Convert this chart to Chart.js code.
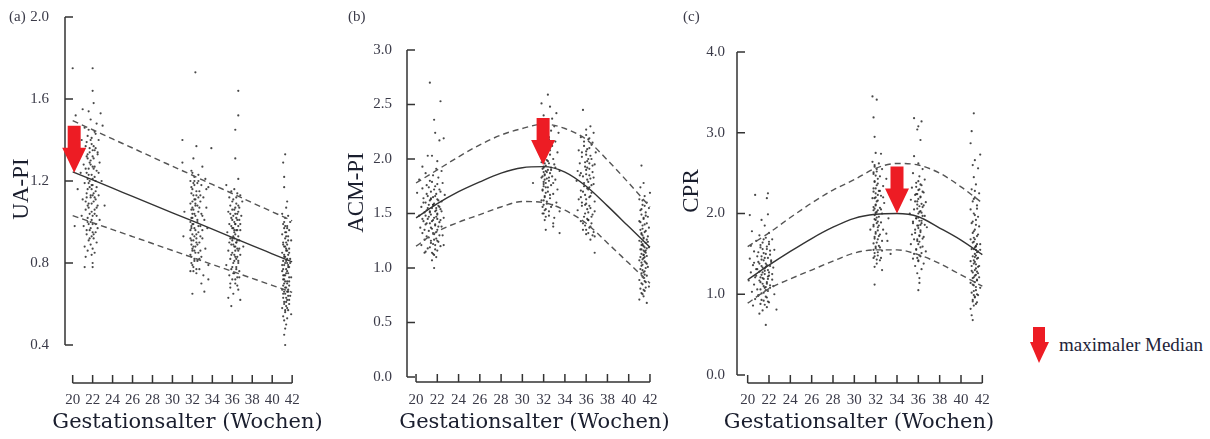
<!DOCTYPE html>
<html lang="de">
<head>
<meta charset="utf-8">
<title>UA-PI, ACM-PI und CPR nach Gestationsalter</title>
<script src="https://cdn.jsdelivr.net/npm/chart.js@4.4.1/dist/chart.umd.min.js"></script>
<style>
  body { margin: 0; background: #fff; }
  #wrap { position: relative; width: 1210px; height: 439px; overflow: hidden; }
  #wrap canvas { position: absolute; top: 0; }
  #cA { left: 0; }
  #cB { left: 340px; }
  #cC { left: 680px; }
  #legend { position: absolute; left: 1029px; top: 326px; height: 38px; display: flex; align-items: center;
            font: 19px 'Liberation Serif', 'DejaVu Serif', serif; color: #1e2438; }
  #legend svg { margin-right: 9px; }
</style>
</head>
<body>
<div id="wrap">
  <canvas id="cA" width="340" height="439"></canvas>
  <canvas id="cB" width="330" height="439"></canvas>
  <canvas id="cC" width="330" height="439"></canvas>
  <div id="legend">
    <svg width="21" height="38"><polygon points="4,1 16,1 16,16 20,16 10,37 1,16 4,16" fill="#ed1c24"/></svg>
    <span>maximaler Median</span>
  </div>
</div>
<script>
  // Wochen fuer die Perzentilkurven und Achsenbeschriftung
  var weeks = [20, 22, 24, 26, 28, 30, 32, 34, 36, 38, 40, 42];
  var xTicks = [20, 22, 24, 26, 28, 30, 32, 34, 36, 38, 40, 42];

  // (a) UA-PI
  var uaTicks = [0.4, 0.8, 1.2, 1.6, 2.0];
  var uaMedian = [1.245, 1.205, 1.165, 1.125, 1.085, 1.045, 1.005, 0.965, 0.925, 0.885, 0.845, 0.805];
  var uaUpper = [1.494, 1.450, 1.405, 1.361, 1.316, 1.272, 1.228, 1.183, 1.139, 1.094, 1.050, 1.006];
  var uaLower = [1.031, 0.997, 0.963, 0.929, 0.895, 0.861, 0.827, 0.793, 0.759, 0.725, 0.691, 0.657];

  // (b) ACM-PI
  var acmTicks = [0.0, 0.5, 1.0, 1.5, 2.0, 2.5, 3.0];
  var acmMedian = [1.46, 1.59, 1.70, 1.79, 1.87, 1.92, 1.93, 1.88, 1.75, 1.57, 1.38, 1.19];
  var acmUpper = [1.78, 1.90, 2.02, 2.13, 2.22, 2.28, 2.32, 2.28, 2.18, 1.99, 1.78, 1.56];
  var acmLower = [1.20, 1.335, 1.42, 1.49, 1.56, 1.61, 1.60, 1.53, 1.41, 1.23, 1.045, 0.86];

  // (c) CPR
  var cprTicks = [0.0, 1.0, 2.0, 3.0, 4.0];
  var cprMedian = [1.18, 1.36, 1.53, 1.69, 1.83, 1.94, 1.99, 2.00, 1.96, 1.82, 1.67, 1.49];
  var cprUpper = [1.59, 1.76, 1.95, 2.13, 2.29, 2.42, 2.56, 2.62, 2.60, 2.50, 2.33, 2.13];
  var cprLower = [0.89, 1.07, 1.19, 1.30, 1.41, 1.51, 1.55, 1.55, 1.49, 1.38, 1.24, 1.10];

  // maximaler Median je Panel: Woche, Wert
  var maxMedianWeek = [20.15, 31.95, 34.0];
  var maxMedianValue = [1.24, 1.945, 2.00];

  // Einzelmessungen (Woche, Wert)
  var uaPts21 = [[20.0,1.75],[22.0,1.75],[22.0,1.64],[22.1,1.58],[21.0,1.55],[21.6,1.54],[22.8,1.53],[20.3,1.52],[21.8,1.50],[22.4,1.48],[23.0,1.47],[21.2,1.46],[22.2,1.44],[21.5,1.42],[20.9,1.40],[22.6,1.40],[21.9,1.38],[21.3,1.37],[22.3,1.36],[22.0,1.35],[21.7,1.34],[20.7,1.33],[22.5,1.33],[21.4,1.32],[22.1,1.31],[21.8,1.30],[22.7,1.29],[21.1,1.28],[22.0,1.27],[21.6,1.26],[22.4,1.25],[20.8,1.24],[21.9,1.23],[22.2,1.22],[21.5,1.21],[22.9,1.20],[21.2,1.19],[22.0,1.18],[21.7,1.17],[20.5,1.16],[22.3,1.15],[21.4,1.14],[22.6,1.13],[21.8,1.12],[21.0,1.11],[22.1,1.10],[21.6,1.09],[23.2,1.08],[22.4,1.07],[21.3,1.06],[21.9,1.05],[22.2,1.04],[20.9,1.03],[21.5,1.02],[22.7,1.01],[21.8,1.00],[22.0,0.99],[21.1,0.98],[22.5,0.97],[21.7,0.96],[22.3,0.95],[21.4,0.94],[21.9,0.93],[22.1,0.92],[21.6,0.91],[20.2,0.98],[22.4,0.90],[21.8,0.89],[21.2,0.88],[22.0,0.87],[21.5,0.86],[22.2,0.85],[21.9,0.84],[21.3,0.83],[22.0,0.80],[21.2,0.78],[22.0,0.78],[21.7,1.29],[22.1,1.26],[21.5,1.31],[22.3,1.20],[21.9,1.16],[21.4,1.24],[22.0,1.13],[21.6,1.19],[22.2,1.35],[21.8,1.40],[21.3,1.10],[22.5,1.08],
    [21.6,1.45],[22.3,1.43],[21.9,1.41],[21.4,1.39],[22.1,1.37],[21.7,1.36],[22.5,1.34],[21.5,1.33],[22.0,1.32],[21.8,1.28],[22.2,1.27],[21.3,1.26],[22.6,1.24],[21.6,1.23],[22.0,1.21],[21.7,1.20],[21.9,1.18],[22.4,1.17],[21.5,1.16],[22.1,1.14],[21.8,1.13],[21.4,1.12],[22.3,1.11],[21.9,1.09],[21.6,1.07],[22.2,1.06],[21.7,1.04],[22.0,1.03],[21.5,1.00],[22.3,0.99],[21.8,0.97],[21.4,0.96],[22.1,0.94],[21.7,0.92],[22.0,0.95],[21.6,0.99],[22.4,1.03],[21.9,1.01],[22.2,1.12],[21.5,1.08]];
  var uaPts32 = [[32.3,1.73],[31.0,1.40],[32.4,1.37],[33.9,1.36],[31.0,1.29],[32.1,1.31],[33.0,1.27],[31.9,1.25],[32.6,1.23],[32.2,1.22],[33.3,1.21],[31.8,1.20],[32.5,1.19],[32.9,1.18],[33.6,1.17],[32.0,1.16],[32.7,1.15],[31.9,1.14],[32.4,1.13],[33.1,1.12],[32.2,1.11],[32.8,1.10],[31.8,1.09],[32.5,1.08],[33.4,1.07],[32.1,1.06],[32.6,1.05],[31.2,1.05],[32.9,1.04],[32.3,1.03],[31.9,1.02],[33.2,1.01],[32.5,1.00],[32.0,0.99],[32.8,0.98],[32.2,0.97],[33.5,0.97],[31.8,0.96],[32.6,0.95],[32.4,0.94],[31.1,0.93],[33.0,0.92],[32.1,0.91],[32.7,0.90],[31.9,0.89],[32.3,0.88],[33.3,0.87],[32.0,0.86],[32.6,0.85],[31.8,0.84],[32.9,0.83],[32.2,0.82],[32.5,0.81],[31.9,0.80],[33.6,0.79],[32.1,0.78],[32.7,0.77],[31.8,0.76],[32.4,0.75],[33.1,0.74],[32.9,0.70],[33.6,0.72],[32.0,0.65],[33.2,0.66],[32.3,1.09],[32.0,1.04],[32.6,1.12],[31.9,0.97],[32.4,0.92],[32.2,1.18],[32.8,0.86],[33.4,1.16],[33.0,0.96],
    [32.0,1.24],[32.2,1.20],[31.9,1.17],[32.4,1.15],[32.1,1.13],[32.0,1.10],[32.3,1.08],[31.9,1.06],[32.2,1.04],[32.0,1.02],[32.5,1.01],[32.1,0.99],[31.9,0.98],[32.3,0.96],[32.0,0.94],[32.2,0.93],[31.9,0.91],[32.4,0.90],[32.1,0.88],[32.0,0.87],[32.3,0.85],[31.9,0.83],[32.2,0.81],[32.0,0.79],[32.4,0.77],[32.1,0.76],[31.8,1.00],[32.6,0.98],[32.7,1.07],[32.8,0.93],[33.0,1.03],[32.5,0.89],[32.7,0.82],[32.6,1.20],[32.8,1.13],[32.1,1.19],[31.8,0.92],[32.2,0.86],[32.0,1.07],[32.3,1.11]];
  var uaPts36 = [[36.6,1.64],[36.6,1.52],[36.3,1.45],[36.3,1.31],[36.6,1.21],[35.4,1.18],[36.2,1.16],[35.9,1.15],[36.5,1.14],[36.8,1.13],[35.7,1.12],[36.1,1.11],[37.0,1.10],[36.4,1.09],[35.8,1.08],[36.7,1.07],[36.0,1.06],[35.6,1.05],[36.3,1.04],[36.9,1.03],[35.9,1.02],[36.5,1.01],[36.2,1.00],[35.7,0.99],[36.6,0.98],[36.0,0.97],[36.8,0.96],[35.5,0.95],[36.3,0.94],[36.1,0.93],[35.8,0.92],[36.7,0.91],[36.4,0.90],[35.9,0.89],[36.2,0.88],[37.1,0.88],[36.5,0.87],[35.6,0.86],[36.0,0.85],[36.8,0.84],[36.3,0.83],[35.8,0.82],[36.6,0.81],[36.1,0.80],[35.4,0.79],[36.4,0.78],[35.9,0.77],[36.7,0.76],[36.2,0.75],[35.7,0.74],[36.5,0.73],[36.0,0.72],[36.3,0.70],[35.8,0.68],[36.6,0.67],[36.1,0.65],[35.6,0.63],[36.8,0.62],[35.9,0.59],[36.2,0.96],[36.4,1.02],[36.0,0.91],[36.6,0.86],[35.8,1.04],[36.3,0.99],
    [36.4,1.12],[36.0,1.10],[36.6,1.08],[36.2,1.06],[36.5,1.04],[36.1,1.03],[36.7,1.01],[36.3,0.99],[35.9,0.98],[36.5,0.96],[36.2,0.95],[36.6,0.93],[36.0,0.92],[36.4,0.90],[36.1,0.89],[36.7,0.87],[36.3,0.86],[35.9,0.84],[36.5,0.83],[36.2,0.81],[36.6,0.80],[36.0,0.78],[36.4,0.77],[36.1,0.75],[36.7,0.73],[36.3,0.72],[35.8,0.70],[36.5,0.69],[36.2,0.92],[36.4,0.96],[36.3,0.88],[36.1,0.97],[36.5,0.91],[36.6,1.05],[36.0,1.01],[36.2,0.84],[35.7,0.90],[36.8,0.99],[36.4,0.82],[36.3,1.07]];
  var uaPts41 = [[41.3,1.33],[41.1,1.29],[41.2,1.22],[41.2,1.17],[41.5,1.10],[41.4,1.07],[41.0,1.04],[41.6,1.03],[41.3,1.02],[41.8,1.00],[41.1,0.99],[41.5,0.98],[41.2,0.97],[41.7,0.96],[41.4,0.95],[41.0,0.94],[41.6,0.93],[41.3,0.92],[41.9,0.91],[41.1,0.90],[41.5,0.89],[41.2,0.88],[41.7,0.87],[41.4,0.86],[41.0,0.85],[41.6,0.84],[41.3,0.83],[41.8,0.82],[41.1,0.81],[41.5,0.80],[41.2,0.79],[41.7,0.78],[41.4,0.77],[41.0,0.76],[41.6,0.75],[41.3,0.74],[41.9,0.73],[41.1,0.72],[41.5,0.71],[41.2,0.70],[41.7,0.69],[41.4,0.68],[41.0,0.67],[41.6,0.66],[41.3,0.65],[41.8,0.64],[41.1,0.63],[41.5,0.62],[41.2,0.61],[41.7,0.60],[41.4,0.59],[41.0,0.58],[41.6,0.57],[41.3,0.56],[41.9,0.55],[41.1,0.54],[41.5,0.53],[41.2,0.52],[41.4,0.50],[41.3,0.48],[41.2,0.45],[41.3,0.40],[41.4,0.81],[41.2,0.74],[41.5,0.66],[41.3,0.88],[41.6,0.79],[41.1,0.69],[41.4,0.93],[41.7,0.71],
    [41.2,1.00],[41.5,0.97],[41.3,0.95],[41.6,0.91],[41.1,0.89],[41.4,0.87],[41.7,0.85],[41.2,0.84],[41.5,0.82],[41.3,0.80],[41.6,0.78],[41.1,0.77],[41.4,0.75],[41.7,0.73],[41.2,0.72],[41.5,0.70],[41.3,0.68],[41.6,0.67],[41.1,0.65],[41.4,0.63],[41.7,0.62],[41.2,0.60],[41.5,0.58],[41.3,0.57],[41.4,0.90],[41.2,0.83],[41.5,0.76],[41.3,0.71],[41.6,0.64],[41.2,0.66],[41.8,0.80],[41.0,0.79],[41.4,0.61],[41.3,0.98],[41.5,0.86],[41.1,0.74]];

  var acmPts21 = [[21.3,2.70],[22.3,2.53],[21.7,2.36],[21.8,2.24],[22.6,2.19],[22.2,2.17],[21.1,2.03],[21.5,2.03],[22.0,1.98],[20.6,1.93],[21.9,1.91],[22.4,1.89],[20.9,1.87],[21.6,1.85],[22.1,1.83],[20.3,1.81],[21.3,1.80],[22.5,1.78],[21.0,1.76],[21.8,1.75],[20.6,1.73],[22.2,1.72],[21.4,1.70],[20.1,1.69],[21.9,1.68],[22.7,1.67],[21.1,1.66],[21.6,1.65],[20.7,1.64],[22.0,1.63],[21.3,1.62],[22.4,1.61],[20.9,1.60],[21.7,1.59],[21.2,1.58],[22.1,1.57],[20.5,1.56],[21.5,1.55],[22.3,1.54],[21.0,1.53],[21.8,1.52],[20.8,1.51],[22.0,1.50],[21.4,1.49],[20.3,1.48],[21.9,1.47],[22.6,1.46],[21.1,1.45],[21.6,1.44],[20.7,1.43],[22.2,1.42],[21.3,1.41],[20.9,1.40],[21.8,1.39],[22.4,1.38],[20.4,1.37],[21.5,1.36],[22.0,1.35],[21.2,1.34],[20.6,1.32],[21.7,1.31],[22.5,1.30],[21.0,1.29],[21.9,1.27],[20.8,1.26],[21.4,1.25],[22.1,1.24],[21.6,1.22],[20.5,1.21],[22.3,1.20],[21.1,1.18],[21.8,1.17],[20.9,1.15],[21.5,1.14],[20.8,1.14],[21.7,1.12],[22.6,1.21],[21.7,1.00],[21.3,1.52],[21.6,1.58],[21.9,1.55],[21.4,1.63],[22.0,1.45],[21.2,1.47],
    [21.5,1.79],[22.0,1.77],[21.2,1.74],[21.7,1.72],[22.3,1.70],[21.0,1.68],[21.8,1.66],[21.4,1.64],[22.1,1.62],[20.7,1.60],[21.6,1.58],[22.2,1.56],[21.1,1.55],[21.9,1.53],[21.3,1.51],[22.0,1.49],[20.9,1.48],[21.7,1.46],[22.3,1.44],[21.5,1.43],[21.0,1.41],[21.8,1.40],[22.1,1.38],[21.4,1.37],[20.8,1.35],[21.9,1.33],[21.6,1.32],[22.2,1.30],[21.2,1.28],[21.7,1.26],[22.0,1.25],[21.4,1.23],[21.8,1.21],[21.3,1.19],[22.0,1.16],[21.6,1.13],[21.9,1.10],[21.5,1.07],[22.4,1.52],[20.6,1.45]];
  var acmPts32 = [[32.4,2.59],[31.8,2.51],[32.6,2.48],[33.2,2.42],[32.0,2.40],[32.8,2.37],[31.9,2.35],[32.3,2.33],[33.0,2.30],[32.1,2.28],[32.7,2.26],[33.4,2.24],[31.8,2.22],[32.5,2.20],[32.2,2.18],[33.1,2.16],[32.0,2.14],[32.8,2.12],[32.4,2.10],[31.9,2.08],[33.3,2.06],[32.6,2.04],[32.1,2.02],[32.9,2.00],[32.3,1.99],[31.8,1.97],[32.5,1.96],[33.0,1.95],[32.2,1.94],[32.7,1.92],[31.9,1.91],[32.4,1.90],[33.5,1.89],[32.0,1.88],[32.6,1.87],[32.1,1.86],[32.8,1.84],[31.8,1.83],[32.3,1.82],[33.1,1.81],[32.5,1.80],[31.0,1.78],[32.0,1.77],[32.7,1.76],[32.2,1.74],[33.3,1.72],[31.9,1.71],[32.4,1.70],[32.9,1.68],[32.1,1.66],[32.6,1.64],[31.8,1.62],[32.3,1.61],[33.2,1.60],[32.0,1.58],[32.7,1.56],[32.2,1.54],[33.5,1.52],[31.9,1.50],[32.5,1.48],[33.0,1.46],[32.1,1.44],[32.9,1.41],[32.9,1.38],[32.2,1.35],[33.5,1.32],[32.0,1.93],[32.1,1.85],[32.0,1.79],[32.2,1.89],
    [32.0,2.27],[32.2,2.23],[31.9,2.19],[32.1,2.15],[32.3,2.11],[32.0,2.07],[32.2,2.03],[31.9,1.99],[32.1,1.96],[32.0,1.92],[32.3,1.88],[31.9,1.84],[32.1,1.81],[32.2,1.78],[32.0,1.75],[31.9,1.72],[32.2,1.69],[32.1,1.65],[32.0,1.62],[32.3,1.59],[31.9,1.56],[32.1,1.53],[32.0,1.50],[32.2,1.47],[32.5,2.18],[32.6,2.08],[32.4,1.98],[32.7,1.90],[32.5,1.83],[32.4,1.74],[32.6,1.67],[32.8,1.58],[32.5,1.52],[32.9,1.78],[33.1,1.92],[32.4,2.35]];
  var acmPts36 = [[35.7,2.45],[36.4,2.30],[36.0,2.27],[36.7,2.24],[35.5,2.20],[36.2,2.18],[36.6,2.15],[35.8,2.12],[36.3,2.10],[35.3,2.08],[36.9,2.06],[36.0,2.04],[35.6,2.02],[36.5,2.00],[36.1,1.98],[35.4,1.96],[36.8,1.95],[35.9,1.93],[36.3,1.91],[35.2,1.89],[36.6,1.88],[36.0,1.86],[35.7,1.84],[36.4,1.82],[35.1,1.80],[36.2,1.79],[36.7,1.77],[35.8,1.75],[36.1,1.73],[35.5,1.71],[36.5,1.69],[35.9,1.67],[36.3,1.65],[35.3,1.63],[36.8,1.61],[36.0,1.59],[35.6,1.57],[36.4,1.55],[35.2,1.53],[36.2,1.51],[36.6,1.49],[35.8,1.47],[36.1,1.45],[35.5,1.43],[36.5,1.41],[35.9,1.39],[36.3,1.37],[35.7,1.35],[36.7,1.33],[36.0,1.31],[36.8,1.29],[36.4,1.26],[36.8,1.14],[36.1,1.92],[36.3,1.74],[35.9,1.58],[36.2,1.44],[36.0,2.07],
    [36.0,2.22],[36.3,2.19],[35.8,2.16],[36.5,2.13],[36.1,2.09],[35.6,2.06],[36.4,2.03],[36.2,2.00],[35.9,1.97],[36.6,1.94],[36.0,1.90],[35.5,1.87],[36.3,1.85],[36.1,1.81],[35.8,1.78],[36.5,1.76],[36.2,1.72],[35.7,1.70],[36.4,1.66],[36.0,1.63],[35.6,1.60],[36.3,1.57],[36.1,1.54],[35.9,1.50],[36.5,1.47],[36.2,1.44],[35.7,1.41],[36.4,1.38],[36.0,1.35],[36.2,1.32],[36.6,1.30],[35.4,1.85],[35.5,1.65],[36.7,1.83],[36.8,1.52],[36.3,1.96]];
  var acmPts41 = [[41.2,1.94],[41.4,1.78],[41.1,1.74],[42.0,1.69],[41.5,1.66],[41.0,1.63],[41.7,1.60],[41.3,1.58],[41.9,1.55],[41.1,1.53],[41.6,1.51],[41.2,1.49],[41.8,1.47],[41.4,1.45],[41.0,1.43],[41.7,1.41],[41.3,1.39],[41.9,1.37],[41.1,1.35],[41.5,1.33],[41.2,1.31],[41.8,1.29],[41.4,1.27],[41.0,1.25],[41.6,1.23],[41.3,1.21],[41.9,1.19],[41.1,1.17],[41.5,1.15],[41.2,1.13],[41.7,1.11],[41.4,1.09],[41.0,1.07],[41.6,1.05],[41.3,1.03],[41.8,1.01],[41.1,0.99],[41.5,0.97],[41.2,0.95],[41.7,0.93],[41.4,0.91],[41.0,0.89],[41.6,0.87],[41.3,0.85],[41.9,0.83],[41.1,0.81],[41.5,0.79],[41.2,0.77],[41.4,0.74],[41.0,0.71],[41.7,0.68],[41.4,1.20],[41.6,1.16],[41.2,1.24],[41.5,1.10],[41.3,1.30],[41.7,1.18],[41.4,1.12],[41.2,1.05],
    [41.3,1.62],[41.5,1.57],[41.2,1.54],[41.6,1.48],[41.4,1.46],[41.1,1.42],[41.5,1.40],[41.3,1.36],[41.6,1.34],[41.2,1.32],[41.4,1.28],[41.7,1.26],[41.3,1.22],[41.5,1.19],[41.2,1.17],[41.6,1.14],[41.4,1.12],[41.3,1.08],[41.5,1.06],[41.2,1.02],[41.6,1.00],[41.4,0.96],[41.3,0.92],[41.5,0.88],[41.2,0.86],[41.6,0.82],[41.4,0.80],[41.3,0.76],[41.7,1.04],[41.1,1.10],[41.4,1.16],[41.2,1.21],[41.8,1.24],[41.5,0.94],[41.3,0.98]];

  var cprPts21 = [[20.7,2.23],[21.9,2.25],[21.8,2.19],[21.9,1.99],[20.2,1.98],[21.3,1.92],[21.6,1.85],[20.4,1.78],[22.0,1.76],[21.1,1.73],[21.7,1.70],[22.3,1.68],[20.8,1.66],[21.4,1.64],[22.0,1.62],[20.3,1.60],[21.2,1.58],[21.8,1.56],[22.5,1.55],[20.6,1.53],[21.5,1.51],[22.1,1.49],[20.9,1.47],[21.6,1.45],[20.2,1.44],[22.2,1.42],[21.0,1.40],[21.7,1.38],[20.5,1.36],[21.3,1.35],[22.4,1.33],[20.8,1.31],[21.9,1.30],[21.1,1.28],[20.3,1.27],[21.6,1.25],[22.0,1.23],[20.7,1.21],[21.4,1.20],[22.3,1.18],[20.1,1.17],[21.2,1.15],[21.8,1.13],[20.6,1.12],[21.5,1.10],[22.1,1.08],[20.9,1.06],[21.7,1.05],[20.4,1.03],[21.3,1.01],[22.5,1.00],[21.0,0.98],[21.8,0.96],[20.7,0.94],[21.5,0.92],[22.0,0.90],[21.2,0.88],[20.5,0.86],[21.8,0.84],[21.4,0.80],[22.7,0.81],[21.1,0.76],[21.7,0.62],[21.6,1.32],[21.9,1.19],[21.4,1.27],[22.1,1.35],[21.7,1.09],[21.3,1.43],
    [21.5,1.68],[22.0,1.65],[21.2,1.61],[21.8,1.59],[21.4,1.56],[22.1,1.54],[21.0,1.52],[21.7,1.50],[21.3,1.47],[21.9,1.45],[21.5,1.42],[22.2,1.40],[21.1,1.38],[21.8,1.36],[21.4,1.33],[20.9,1.31],[21.6,1.29],[22.0,1.27],[21.3,1.24],[21.9,1.22],[21.5,1.19],[21.1,1.17],[21.8,1.15],[21.4,1.13],[22.1,1.11],[21.6,1.08],[21.2,1.06],[21.9,1.04],[21.5,1.02],[21.0,0.99],[21.7,0.97],[21.3,0.93],[21.9,0.91],[21.6,0.87],[20.8,1.23],[22.3,1.25],[20.6,1.39],[22.4,1.10],[21.7,1.34],[21.2,1.21]];
  var cprPts32 = [[31.7,3.45],[32.1,3.41],[31.8,3.19],[31.9,2.95],[32.0,2.75],[32.5,2.74],[31.7,2.64],[32.3,2.62],[31.9,2.58],[32.6,2.55],[32.1,2.52],[31.8,2.49],[32.4,2.46],[33.0,2.43],[31.9,2.40],[32.2,2.37],[32.7,2.34],[31.8,2.31],[32.3,2.28],[32.0,2.25],[32.5,2.22],[31.7,2.19],[32.2,2.16],[32.8,2.13],[32.0,2.10],[32.4,2.07],[31.8,2.04],[32.1,2.02],[32.6,2.00],[31.9,1.98],[32.3,1.96],[33.2,1.94],[32.0,1.92],[32.5,1.89],[31.8,1.86],[32.2,1.83],[32.7,1.80],[31.5,1.80],[32.0,1.77],[32.4,1.74],[31.9,1.71],[32.2,1.68],[33.1,1.66],[31.8,1.63],[32.3,1.60],[32.0,1.57],[32.6,1.54],[31.9,1.51],[32.2,1.48],[33.4,1.50],[31.8,1.45],[32.4,1.42],[32.1,1.38],[31.9,1.34],[32.6,1.30],[31.9,1.12],[32.0,2.01],[32.1,1.95],[31.9,2.06],[32.2,1.90],[32.0,2.20],[32.3,1.72],
    [31.9,2.60],[32.1,2.55],[31.8,2.51],[32.0,2.47],[32.2,2.43],[31.9,2.39],[32.1,2.35],[32.0,2.31],[31.8,2.27],[32.2,2.23],[31.9,2.19],[32.1,2.15],[32.0,2.11],[31.8,2.08],[32.2,2.04],[32.0,1.99],[31.9,1.93],[32.1,1.88],[31.8,1.84],[32.2,1.79],[32.0,1.75],[31.9,1.69],[32.1,1.64],[32.0,1.59],[31.8,1.55],[32.2,1.52],[31.9,1.47],[32.1,1.43],[32.4,2.28],[32.5,2.05],[32.3,1.85],[32.6,1.66],[32.4,1.58],[32.7,2.20],[33.0,1.75],[32.5,1.45]];
  var cprPts36 = [[35.6,3.18],[36.3,3.14],[36.0,3.08],[35.9,3.04],[36.2,2.91],[35.6,2.71],[36.0,2.62],[36.4,2.55],[35.5,2.50],[36.1,2.46],[36.6,2.42],[35.8,2.38],[36.3,2.35],[35.4,2.32],[36.0,2.29],[36.5,2.26],[35.7,2.23],[36.2,2.20],[35.3,2.17],[36.7,2.14],[35.9,2.11],[36.4,2.08],[35.6,2.05],[36.1,2.02],[35.2,2.00],[36.6,1.97],[35.8,1.94],[36.3,1.91],[35.5,1.88],[36.0,1.85],[36.8,1.83],[35.7,1.80],[36.2,1.77],[35.4,1.74],[36.5,1.71],[35.9,1.68],[36.1,1.65],[35.3,1.62],[36.4,1.59],[35.8,1.56],[36.7,1.53],[35.6,1.50],[36.2,1.47],[35.5,1.44],[36.0,1.41],[36.5,1.38],[35.7,1.35],[36.3,1.31],[35.9,1.26],[36.1,1.20],[36.1,1.14],[36.0,1.05],[36.0,1.95],[36.2,1.86],[35.9,2.15],[36.3,2.01],[36.1,1.73],[35.8,2.24],
    [36.0,2.40],[36.2,2.36],[35.8,2.33],[36.1,2.30],[36.4,2.27],[35.9,2.24],[36.2,2.21],[36.0,2.18],[35.7,2.15],[36.3,2.12],[36.1,2.09],[35.9,2.06],[36.2,2.03],[36.0,2.00],[36.4,1.97],[35.8,1.94],[36.1,1.91],[36.3,1.88],[35.9,1.85],[36.0,1.82],[36.2,1.79],[35.7,1.76],[36.1,1.72],[36.4,1.69],[35.9,1.66],[36.0,1.62],[36.2,1.58],[35.8,1.55],[36.3,1.51],[36.1,1.48],[35.9,1.45],[36.0,1.42],[35.5,1.90],[36.5,2.10],[35.6,1.68],[36.6,1.86]];
  var cprPts41 = [[41.2,3.24],[41.0,3.02],[40.9,2.87],[41.8,2.73],[41.3,2.66],[41.1,2.60],[41.6,2.56],[41.2,2.45],[41.4,2.36],[41.0,2.30],[41.7,2.25],[41.3,2.20],[41.1,2.15],[41.5,2.10],[40.9,2.05],[41.2,2.00],[41.6,1.96],[41.4,1.92],[41.0,1.88],[41.7,1.84],[41.3,1.80],[41.1,1.76],[41.5,1.72],[40.9,1.68],[41.2,1.65],[41.8,1.62],[41.4,1.59],[41.0,1.56],[41.6,1.53],[41.3,1.50],[41.1,1.47],[41.5,1.44],[40.9,1.41],[41.2,1.38],[41.7,1.35],[41.4,1.32],[41.0,1.29],[41.6,1.26],[41.3,1.23],[41.1,1.20],[41.5,1.17],[40.9,1.14],[41.2,1.11],[41.8,1.08],[41.4,1.05],[41.0,1.02],[41.6,0.99],[41.3,0.96],[41.1,0.93],[41.5,0.90],[41.2,0.86],[40.9,0.82],[41.0,0.74],[41.1,0.68],[41.3,1.58],[41.4,1.48],[41.2,1.70],[41.5,1.62],[41.3,1.40],[41.4,1.55],
    [41.3,2.28],[41.2,2.18],[41.5,2.06],[41.3,1.98],[41.1,1.90],[41.4,1.86],[41.2,1.78],[41.6,1.74],[41.3,1.68],[41.1,1.64],[41.4,1.60],[41.2,1.56],[41.5,1.52],[41.3,1.46],[41.2,1.42],[41.4,1.37],[41.6,1.34],[41.3,1.30],[41.1,1.27],[41.4,1.24],[41.2,1.21],[41.5,1.18],[41.3,1.15],[41.1,1.12],[41.4,1.09],[41.2,1.04],[41.5,1.00],[41.3,0.97],[41.1,0.91],[41.4,0.88],[41.6,1.45],[41.7,1.21],[41.0,1.35],[41.8,1.55],[41.5,1.28],[41.2,0.99]];

  var FONT = "'Liberation Serif', 'DejaVu Serif', serif";
  var TITLE_FONT = "'DejaVu Serif', 'Liberation Serif', serif";
  var TICK_COLOR = '#3a3a48';
  var TITLE_COLOR = '#1a1e2e';
  Chart.defaults.font.family = FONT;

  // Achsen, Pfeil und Beschriftungen wie in der Vorlage
  var panelFrame = {
    id: 'panelFrame',
    beforeDatasetsDraw: function (chart, args, opts) {
      var ctx = chart.ctx, ca = chart.chartArea, x = chart.scales.x, y = chart.scales.y;
      var axisY = ca.bottom + opts.gap;
      ctx.save();
      ctx.strokeStyle = '#333';
      ctx.lineWidth = 1.5;
      ctx.beginPath();
      ctx.moveTo(ca.left, y.getPixelForValue(y.max));
      ctx.lineTo(ca.left, y.getPixelForValue(y.min));
      y.ticks.forEach(function (t) {
        var py = y.getPixelForValue(t.value);
        ctx.moveTo(ca.left, py);
        ctx.lineTo(ca.left + 8, py);
      });
      ctx.moveTo(x.getPixelForValue(xTicks[0]), axisY);
      ctx.lineTo(x.getPixelForValue(xTicks[xTicks.length - 1]), axisY);
      x.ticks.forEach(function (t) {
        var px = x.getPixelForValue(t.value);
        ctx.moveTo(px, axisY);
        ctx.lineTo(px, axisY - 8);
      });
      ctx.stroke();
      ctx.restore();
    },
    afterDatasetsDraw: function (chart, args, opts) {
      var ctx = chart.ctx, x = chart.scales.x, y = chart.scales.y;
      var px = x.getPixelForValue(maxMedianWeek[opts.panel]);
      var py = y.getPixelForValue(maxMedianValue[opts.panel]);
      var len = 47, head = 25, sw = 13, hw = 24;
      ctx.save();
      ctx.fillStyle = '#ed1c24';
      ctx.beginPath();
      ctx.moveTo(px - sw / 2, py - len);
      ctx.lineTo(px + sw / 2, py - len);
      ctx.lineTo(px + sw / 2, py - head);
      ctx.lineTo(px + hw / 2, py - head);
      ctx.lineTo(px, py);
      ctx.lineTo(px - hw / 2, py - head);
      ctx.lineTo(px - sw / 2, py - head);
      ctx.closePath();
      ctx.fill();
      ctx.restore();
    },
    afterDraw: function (chart, args, opts) {
      var ctx = chart.ctx;
      // y-Titel, senkrecht
      ctx.save();
      ctx.fillStyle = TITLE_COLOR;
      ctx.font = '23px ' + FONT;
      ctx.textAlign = 'center';
      ctx.textBaseline = 'middle';
      ctx.translate(opts.titleX, opts.titleY);
      ctx.rotate(-Math.PI / 2);
      ctx.fillText(opts.title, 0, 0);
      ctx.restore();
      // x-Titel, ohne Stauchung auf die Achsenbreite
      ctx.save();
      ctx.fillStyle = TITLE_COLOR;
      ctx.font = '21px ' + TITLE_FONT;
      ctx.textAlign = 'center';
      ctx.textBaseline = 'middle';
      ctx.fillText('Gestationsalter (Wochen)', opts.xTitleX, 423);
      ctx.restore();
      // Panelbuchstabe
      ctx.save();
      ctx.fillStyle = TICK_COLOR;
      ctx.font = '15px ' + FONT;
      ctx.textAlign = 'left';
      ctx.textBaseline = 'middle';
      ctx.fillText(opts.letter, opts.letterX, 17);
      ctx.restore();
    }
  };

  function curve(values) {
    return weeks.map(function (w, i) { return { x: w, y: values[i] }; });
  }
  function cloud(list) {
    return list.map(function (p) { return { x: p[0], y: p[1] }; });
  }

  function makePanel(id, p) {
    var lineBase = { showLine: true, pointRadius: 0, borderWidth: 1.4, fill: false, cubicInterpolationMode: 'monotone', clip: false };
    var datasets = [
      Object.assign({ data: curve(p.median), borderColor: '#333' }, lineBase),
      Object.assign({ data: curve(p.upper), borderColor: '#555', borderDash: [6, 4] }, lineBase),
      Object.assign({ data: curve(p.lower), borderColor: '#555', borderDash: [6, 4] }, lineBase)
    ];
    p.clouds.forEach(function (c) {
      datasets.push({ data: cloud(c), pointRadius: 1.1, pointBackgroundColor: 'rgba(40,40,40,0.85)', pointBorderWidth: 0, showLine: false, clip: false });
    });
    return new Chart(document.getElementById(id), {
      type: 'scatter',
      data: { datasets: datasets },
      plugins: [panelFrame],
      options: {
        responsive: false,
        animation: false,
        events: [],
        layout: { padding: { left: 0, right: p.padRight, top: p.padTop, bottom: 0 } },
        plugins: {
          legend: { display: false },
          tooltip: { enabled: false },
          panelFrame: p.frame
        },
        scales: {
          x: {
            type: 'linear', min: p.xMin, max: 43,
            afterBuildTicks: function (s) { s.ticks = xTicks.map(function (v) { return { value: v }; }); },
            afterFit: function (s) { s.height = p.xHeight; },
            grid: { display: false }, border: { display: false },
            ticks: { autoSkip: false, maxRotation: 0, padding: p.xPad, color: TICK_COLOR,
                     font: { family: FONT, size: 15, lineHeight: 1 }, callback: function (v) { return v; } },
            title: { display: false }
          },
          y: {
            type: 'linear', min: p.yTicks[0], max: p.yTicks[p.yTicks.length - 1],
            afterBuildTicks: function (s) { s.ticks = p.yTicks.map(function (v) { return { value: v }; }); },
            afterFit: function (s) { s.width = p.yWidth; },
            grid: { display: false }, border: { display: false },
            ticks: { padding: p.yPad, color: TICK_COLOR, font: { family: FONT, size: 15, lineHeight: 1 },
                     callback: function (v) { return v.toFixed(1); } }
          }
        }
      }
    });
  }

  makePanel('cA', {
    median: uaMedian, upper: uaUpper, lower: uaLower, yTicks: uaTicks,
    clouds: [uaPts21, uaPts32, uaPts36, uaPts41],
    padRight: 20, padTop: 17, xMin: 19.23, xHeight: 94, xPad: 39.5, yWidth: 65, yPad: 8,
    frame: { panel: 0, gap: 38, title: 'UA-PI', titleX: 21.5, titleY: 189, xTitleX: 187.5, letter: '(a)', letterX: 9 }
  });
  makePanel('cB', {
    median: acmMedian, upper: acmUpper, lower: acmLower, yTicks: acmTicks,
    clouds: [acmPts21, acmPts32, acmPts36, acmPts41],
    padRight: 9.4, padTop: 50, xMin: 19.15, xHeight: 62, xPad: 7.5, yWidth: 67, yPad: 7,
    frame: { panel: 1, gap: 5, title: 'ACM-PI', titleX: 17, titleY: 192.5, xTitleX: 194.5, letter: '(b)', letterX: 8 }
  });
  makePanel('cC', {
    median: cprMedian, upper: cprUpper, lower: cprLower, yTicks: cprTicks,
    clouds: [cprPts21, cprPts32, cprPts36, cprPts41],
    padRight: 17, padTop: 52, xMin: 19.0, xHeight: 64, xPad: 9.5, yWidth: 57, yPad: 4,
    frame: { panel: 2, gap: 8, title: 'CPR', titleX: 12, titleY: 191, xTitleX: 179, letter: '(c)', letterX: 3 }
  });
</script>
</body>
</html>
